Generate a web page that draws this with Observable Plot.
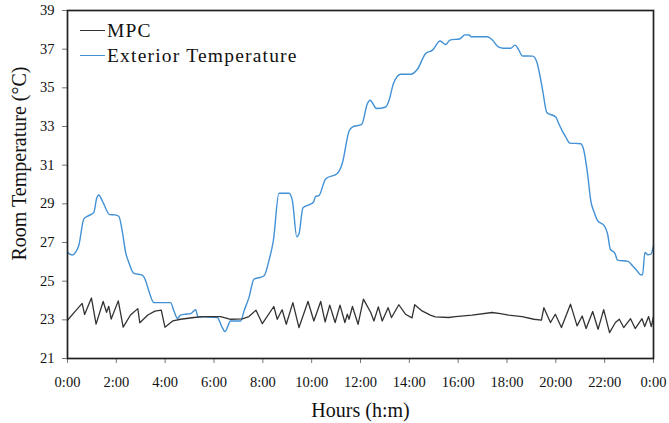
<!DOCTYPE html>
<html>
<head>
<meta charset="utf-8">
<script src="https://cdn.jsdelivr.net/npm/d3@7"></script>
<script src="https://cdn.jsdelivr.net/npm/@observablehq/plot@0.6"></script>
<style>
  body { margin: 0; background: #fff; }
  #wrap { position: relative; width: 669px; height: 423px; }
  #legend { position: absolute; left: 80px; top: 18px; font-family: "Liberation Serif", serif; font-size: 19.5px; letter-spacing: 1.2px; color: #111; }
  #legend .row { display: flex; align-items: center; height: 25px; }
  #legend .sw { display: inline-block; width: 25px; height: 0; margin-right: 2px; }
  [aria-label="x-title"] text { letter-spacing: 0.9px; }
  [aria-label="y-title"] text { letter-spacing: 0.5px; }
</style>
</head>
<body>
<div id="wrap">
  <div id="chart"></div>
  <div id="legend"></div>
</div>
<script>
// ---- data ----
const seriesNames = ["MPC", "Exterior Temperature"];
const seriesColors = ["#333333", "#4291d6"];

const xTicks = [0, 2, 4, 6, 8, 10, 12, 14, 16, 18, 20, 22, 24];
const xTickLabels = ["0:00","2:00","4:00","6:00","8:00","10:00","12:00","14:00","16:00","18:00","20:00","22:00","0:00"];
const yTicks = [21, 23, 25, 27, 29, 31, 33, 35, 37, 39];

const xLabel = "Hours (h:m)";
const yLabel = "Room Temperature (\u00B0C)";

const extHours = [0.00,0.19,0.33,0.46,0.67,0.87,1.08,1.19,1.28,1.42,1.73,1.94,2.10,2.24,2.38,2.51,2.72,3.06,3.20,3.33,3.54,4.22,4.36,4.50,4.63,4.84,5.04,5.25,5.34,6.13,6.34,6.45,6.68,7.09,7.23,7.43,7.64,7.88,8.05,8.25,8.43,8.66,9.07,9.21,9.39,9.48,9.64,9.89,10.07,10.16,10.30,10.57,11.05,11.25,11.53,11.66,12.05,12.28,12.39,12.66,13.03,13.17,13.35,13.65,14.06,14.33,14.67,14.95,15.26,15.49,15.66,16.08,16.27,16.45,16.54,17.20,17.40,17.64,17.86,18.16,18.33,18.47,18.63,19.05,19.22,19.32,19.46,19.63,20.00,20.09,20.25,20.41,20.57,21.02,21.13,21.30,21.43,21.57,21.71,21.98,22.12,22.23,22.42,22.53,22.96,23.14,23.35,23.48,23.55,23.65,23.76,23.89,24.00];
const extTemp  = [26.49,26.35,26.49,26.83,28.22,28.39,28.56,29.26,29.46,29.17,28.44,28.43,28.36,27.61,26.49,25.97,25.40,25.31,25.02,24.50,23.89,23.89,23.46,23.08,23.24,23.29,23.32,23.52,23.17,23.12,22.60,22.39,22.94,22.94,23.46,24.15,25.11,25.19,25.28,26.06,27.09,29.55,29.55,29.17,27.30,27.44,28.79,28.95,29.08,29.38,29.43,30.29,30.57,31.07,32.75,32.97,33.11,34.18,34.36,33.93,34.01,34.36,35.22,35.70,35.70,35.96,36.78,36.95,37.42,37.24,37.47,37.54,37.74,37.73,37.64,37.64,37.47,37.12,37.05,37.05,37.21,36.99,36.65,36.64,36.34,35.82,34.87,33.73,33.49,33.23,32.80,32.45,32.14,32.11,31.85,30.55,29.17,28.56,28.13,27.87,27.44,26.66,26.44,26.09,26.02,25.80,25.50,25.33,25.33,26.49,26.37,26.40,26.83];

const mpcHours = [0.00,0.33,0.60,0.70,0.98,1.17,1.46,1.60,1.69,1.79,2.08,2.28,2.58,2.88,2.96,3.29,3.58,3.84,3.99,4.32,4.63,5.18,5.59,6.27,6.68,7.16,7.43,7.72,7.98,8.45,8.59,8.79,8.96,9.23,9.48,9.85,10.09,10.37,10.55,10.74,10.96,11.16,11.36,11.46,11.53,11.67,11.90,12.12,12.42,12.55,12.73,12.89,13.13,13.27,13.57,13.84,14.11,14.22,14.52,14.86,15.06,15.61,15.89,16.57,17.39,17.73,18.07,18.62,19.10,19.41,19.51,19.78,19.98,20.23,20.60,20.87,21.08,21.24,21.51,21.73,21.96,22.20,22.44,22.60,22.78,23.06,23.25,23.53,23.64,23.80,23.91,24.00];
const mpcTemp  = [22.98,23.46,23.85,23.28,24.13,22.78,23.95,23.39,23.70,23.04,23.98,22.62,23.25,23.58,22.85,23.25,23.45,23.50,22.62,22.95,23.03,23.12,23.17,23.17,23.03,23.05,23.17,23.50,22.80,23.69,23.03,23.52,22.77,23.89,22.60,23.95,22.94,23.95,22.89,23.76,22.86,23.76,22.86,23.29,23.03,23.69,22.77,24.07,23.38,22.94,23.67,22.94,23.63,23.12,23.78,23.29,23.10,23.78,23.46,23.24,23.15,23.12,23.17,23.24,23.38,23.32,23.24,23.17,23.03,22.98,23.63,22.86,23.29,22.60,23.81,22.69,23.20,22.55,23.43,22.51,23.53,22.34,22.86,23.03,22.60,23.06,22.55,23.06,22.65,23.17,22.65,23.17];

// ---- tables ----
const extData = extHours.map((h, i) => ({ h, v: extTemp[i] }));
const mpcData = mpcHours.map((h, i) => ({ h, v: mpcTemp[i] }));

const chart = Plot.plot({
  width: 669,
  height: 423,
  marginLeft: 67,
  marginRight: 16,
  marginTop: 10,
  marginBottom: 65,
  style: { fontFamily: "'Liberation Serif', serif", fontSize: "14.5px", color: "#111", background: "#fff" },
  x: { domain: [0, 24] },
  y: { domain: [21, 39] },
  marks: [
    Plot.axisX({ ticks: xTicks, tickFormat: (d) => xTickLabels[xTicks.indexOf(d)], tickSize: 5, tickPadding: 13, label: null, stroke: "#777" }),
    Plot.axisY({ ticks: yTicks, tickSize: 5, tickPadding: 8, label: null, stroke: "#777" }),
    Plot.line(extData, { x: "h", y: "v", stroke: seriesColors[1], strokeWidth: 1.4, curve: "monotone-x" }),
    Plot.line(mpcData, { x: "h", y: "v", stroke: seriesColors[0], strokeWidth: 1.3 }),
    Plot.frame({ stroke: "#222", strokeWidth: 1.7 }),
    Plot.text([xLabel], { text: d => d, frameAnchor: "bottom", dy: 52, lineAnchor: "middle", textAnchor: "middle", fontSize: 20, fill: "#111", ariaLabel: "x-title" }),
    Plot.text([yLabel], { text: d => d, frameAnchor: "left", rotate: -90, dx: -48, dy: -21, lineAnchor: "middle", textAnchor: "middle", fontSize: 20, fill: "#111", ariaLabel: "y-title" })
  ]
});
document.getElementById("chart").appendChild(chart);

// ---- legend ----
const legend = document.getElementById("legend");
seriesNames.forEach((name, i) => {
  const row = document.createElement("div");
  row.className = "row";
  const sw = document.createElement("span");
  sw.className = "sw";
  sw.style.borderTop = "1.5px solid " + seriesColors[i];
  const t = document.createElement("span");
  t.textContent = name;
  row.appendChild(sw);
  row.appendChild(t);
  legend.appendChild(row);
});
</script>
</body>
</html>
